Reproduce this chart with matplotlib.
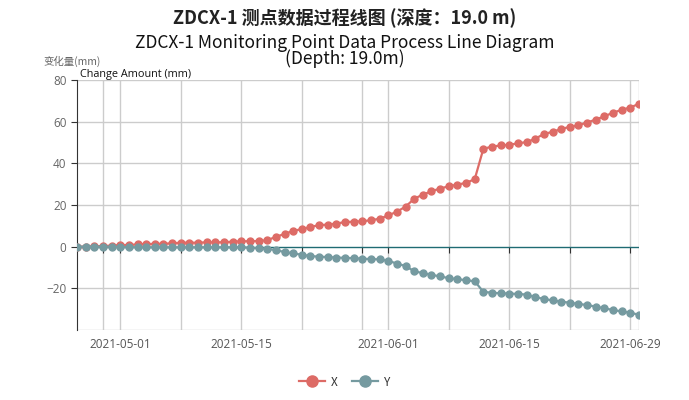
import matplotlib
matplotlib.use("Agg")
import matplotlib.pyplot as plt
import matplotlib.dates as mdates
import numpy as np
import pandas as pd

plt.rcParams['font.family'] = ['Noto Sans CJK SC', 'DejaVu Sans']

# daily readings, 2021-04-26 .. 2021-06-30
dates = pd.date_range("2021-04-26", "2021-06-30", freq="D")
x_vals = [0.0, 0.0, 0.2, 0.3, 0.5, 0.8, 0.8, 1.1, 1.3, 1.3,
          1.4, 1.6, 1.9, 1.9, 1.9, 2.1, 2.1, 2.1, 2.4, 2.6,
          2.6, 2.7, 3.1, 4.7, 6.1, 7.6, 8.4, 9.5, 10.3, 10.6,
          11.1, 11.8, 12.0, 12.2, 12.7, 13.4, 15.0, 16.8, 19.2, 23.0,
          25.0, 26.6, 27.9, 29.0, 29.8, 30.6, 32.4, 47.0, 48.0, 48.6,
          48.9, 49.6, 50.2, 51.8, 54.1, 55.1, 56.5, 57.5, 58.3, 59.6,
          61.0, 62.6, 64.3, 65.7, 66.8, 68.6]
y_vals = [0.0, 0.0, 0.0, 0.0, 0.0, -0.2, -0.2, -0.3, -0.3, -0.3,
          -0.3, -0.3, -0.3, -0.3, -0.3, -0.3, -0.3, -0.3, -0.3, -0.3,
          -0.5, -0.8, -1.1, -1.6, -2.6, -3.2, -3.9, -4.5, -4.8, -5.0,
          -5.2, -5.4, -5.5, -5.8, -5.95, -6.1, -6.8, -8.1, -9.3, -11.8,
          -12.7, -13.5, -14.3, -15.1, -15.6, -16.1, -16.6, -21.7, -22.1, -22.4,
          -22.5, -22.7, -23.0, -24.2, -25.1, -25.8, -26.4, -26.9, -27.5, -28.0,
          -28.8, -29.6, -30.4, -31.1, -31.7, -32.7]

grid_dates = pd.to_datetime(["2021-04-29", "2021-05-01", "2021-05-08", "2021-05-15",
                             "2021-05-22", "2021-05-29", "2021-06-01", "2021-06-08",
                             "2021-06-15", "2021-06-22", "2021-06-29"])
label_dates = pd.to_datetime(["2021-05-01", "2021-05-15", "2021-06-01",
                              "2021-06-15", "2021-06-29"])
y_ticks = [-20, 0, 20, 40, 60, 80]

red = "#dd6b66"
teal = "#759aa0"

fig = plt.figure(figsize=(6.89, 4.0), dpi=100)
ax = fig.add_axes([77/689, 70/400, (639-77)/689, 250/400])

ax.set_xlim(dates[0], dates[-1])
ax.set_ylim(-40, 80)

for d in grid_dates:
    ax.axvline(d, color="#cccccc", lw=1, zorder=0)
for v in [-40, -20, 20, 40, 60, 80]:
    ax.axhline(v, color="#cccccc", lw=1, zorder=0)
ax.axvline(dates[-1], color="#cccccc", lw=1, zorder=0)
ax.axhline(0, color="#1f6b73", lw=1, zorder=1)

ax.plot(dates, x_vals, color=red, lw=1.6, marker="o", ms=5, label="X", zorder=3)
ax.plot(dates, y_vals, color=teal, lw=1.6, marker="o", ms=5, label="Y", zorder=3)

for s in ["top", "right", "bottom"]:
    ax.spines[s].set_visible(False)
ax.spines["left"].set_color("#333333")

ax.set_yticks(y_ticks)
ax.tick_params(axis="y", colors="#333333", length=4, labelsize=8.5, labelcolor="#666666")
ax.set_xticks(label_dates)
ax.xaxis.set_major_formatter(mdates.DateFormatter("%Y-%m-%d"))
ax.tick_params(axis="x", length=0, pad=6, labelsize=8.5, labelcolor="#555555")
for lab in ax.get_xticklabels():
    lab.set_family(["Open Sans", "DejaVu Sans"])
for lab in ax.get_yticklabels():
    lab.set_family(["Open Sans", "DejaVu Sans"])

# tick marks on the zero line
sec = ax.secondary_xaxis(40/120)
sec.set_xticks(grid_dates)
sec.tick_params(axis="x", length=4, color="#333333", labelbottom=False)
sec.spines["bottom"].set_visible(False)

fig.text(0.5, 0.955, "ZDCX-1 测点数据过程线图 (深度：19.0 m)", ha="center", va="center",
         fontsize=13, fontweight="bold", color="#222222")
fig.text(0.5, 1 - 51/400, "ZDCX-1 Monitoring Point Data Process Line Diagram\n(Depth: 19.0m)",
         ha="center", va="center", fontsize=12.5, color="#111111", linespacing=0.8)
fig.text(43/689, 1 - 61/400, "变化量(mm)", ha="left", va="center", fontsize=7.5, color="#666666")
fig.text(80/689, 1 - 75/400, "Change Amount (mm)", ha="left", va="center", fontsize=7.8,
         color="#111111", family=["Open Sans", "DejaVu Sans"])

leg = fig.legend(loc="center", bbox_to_anchor=(0.5, 1 - 382/400), ncol=2, frameon=False,
                 fontsize=8.5, handlelength=2.2, columnspacing=1.2, handletextpad=0.5,
                 markerscale=1.6)
for t in leg.get_texts():
    t.set_color("#333333")

fig.savefig("out.png", dpi=100)
